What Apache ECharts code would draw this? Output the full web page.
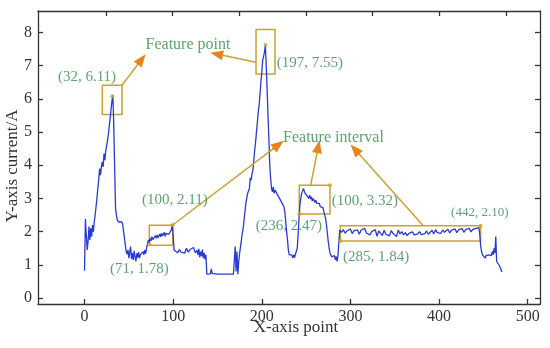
<!DOCTYPE html>
<html><head><meta charset="utf-8">
<script src="https://cdn.jsdelivr.net/npm/echarts@6/dist/echarts.min.js"></script>
<style>html,body{margin:0;padding:0;background:#fff}#c{width:550px;height:348px}</style>
</head><body><div id="c"></div>
<script>
// ---- data (x-axis point, current in A) ----
const xIndex = [
0,1,2,3,4,5,6,7,8,9,10,11,12,13,14,15,16,17,18,19,20,21,22,23,24,25,26,27,28,29,30,31,32,33,34,35,36,37,38,39,40,41,42,43,44,45,46,47,
48,49,50,51,52,53,54,55,56,57,58,59,60,61,62,63,64,65,66,67,68,69,70,71,
72,73,74,75,76,77,78,79,80,81,82,83,84,85,86,87,88,89,90,91,92,93,94,95,96,97,98,99,100,101,
103,105,107,109,111,113,115,117,119,121,123,125,127,128,129,130,131,132,133,134,135,136,137,138,
140,142,143,144,146,150,155,160,165,168,169,170,171,172,173,
174,175,176,177,178,179,180,181,182,183,184,185,186,187,188,189,190,191,192,193,194,195,196,197,198,199,200,201,202,203,204,205,206,207,208,209,210,
211,212,213,214,215,216,217,218,219,220,221,222,223,224,225,226,227,228,229,230,231,232,233,234,235,236,237,238,239,240,
241,242,243,244,245,246,247,248,249,250,251,252,253,254,255,256,257,258,259,260,261,262,263,264,265,266,267,268,269,270,
271,272,273,274,275,276,277,278,279,280,281,282,283,284,285,286,287,288,
290,292,294,296,298,300,302,304,306,308,310,312,314,316,318,320,322,324,326,328,330,332,334,336,338,340,342,344,346,348,
350,352,354,356,358,360,362,364,366,368,370,372,374,376,378,380,382,384,386,388,390,392,394,396,398,400,402,404,406,408,
410,412,414,416,418,420,422,424,426,428,430,432,434,436,438,440,442,444,445,446,
447,448,449,450,451,452,453,454,455,456,457,458,459,460,461,462,463,464,465,466,467,468,469,470,471
];
const currentA = [
0.82,2.38,1.9,1.45,1.7,2.15,1.75,2.1,1.85,2.2,2.0,2.3,2.5,2.75,3.0,3.3,3.55,3.9,3.7,3.95,4.1,3.95,4.35,4.15,4.45,4.6,4.75,4.95,5.2,5.45,5.7,5.95,6.11,5.2,3.9,2.7,2.5,2.35,2.4,2.28,2.32,2.26,2.3,2.22,2.28,2.2,1.6,1.4,
1.32,1.45,1.2,1.38,1.55,1.18,1.35,1.15,1.42,1.25,1.1,1.35,1.22,1.38,1.2,1.3,1.36,1.24,1.4,1.3,1.44,1.34,1.5,1.62,
1.75,1.66,1.8,1.72,1.85,1.76,1.82,1.74,1.88,1.8,1.9,1.82,1.86,1.93,1.84,1.95,1.87,1.9,1.98,1.86,1.95,1.9,2.0,1.92,1.96,1.88,2.05,2.2,1.9,1.45,
1.4,1.36,1.46,1.38,1.44,1.35,1.5,1.38,1.46,1.4,1.52,1.36,1.44,1.3,1.48,1.22,1.4,1.26,1.46,1.2,1.36,1.16,1.3,0.72,
0.72,0.73,0.88,0.74,0.72,0.72,0.72,0.72,0.72,0.72,0.76,1.55,0.8,1.4,0.72,
1.1,1.35,1.55,1.75,1.95,2.1,2.35,2.6,2.85,3.0,3.15,3.2,3.3,3.62,3.55,3.75,3.85,4.15,4.45,4.7,5.0,5.3,5.6,5.8,6.15,6.5,6.8,7.15,7.2,7.4,7.62,7.0,6.3,5.5,4.8,4.0,3.6,
3.3,3.2,3.35,3.15,3.25,3.2,3.3,3.1,3.15,3.0,3.05,2.95,2.85,2.9,2.75,2.6,2.3,2.0,1.75,1.45,1.3,1.35,1.25,1.3,1.2,1.3,1.22,1.32,1.28,1.5,
1.9,2.4,2.8,3.0,3.15,3.22,3.3,3.22,3.15,3.18,3.08,3.12,3.0,3.1,2.98,3.05,2.92,3.0,2.95,2.88,2.95,2.85,2.9,2.8,2.85,2.75,2.8,2.7,2.72,2.6,
2.55,2.4,2.2,1.95,1.7,1.5,1.35,1.3,1.24,1.3,1.2,1.28,1.15,1.25,1.1,1.3,1.7,2.05,
1.98,2.06,1.95,2.02,1.97,2.08,1.94,2.03,1.99,2.05,1.92,2.04,1.98,2.1,1.96,2.02,1.9,2.0,1.94,2.06,1.86,2.02,1.96,1.88,2.04,1.92,1.98,1.87,2.03,1.95,
1.98,1.85,2.05,1.93,2.0,1.9,1.97,1.88,1.95,1.92,1.99,1.9,1.96,1.93,2.0,1.91,1.97,1.94,2.02,1.92,1.98,2.04,1.93,2.06,1.97,2.02,1.95,2.05,1.98,2.0,
2.07,1.96,2.04,2.0,2.08,1.97,2.05,2.01,2.09,1.98,2.06,2.02,2.1,1.99,2.07,2.03,2.1,2.04,2.12,1.9,
1.55,1.4,1.3,1.25,1.35,1.2,1.28,1.3,1.22,1.3,1.25,1.35,1.28,1.4,1.3,1.5,1.35,1.85,1.1,1.05,1.1,0.98,1.0,0.85,0.78
];
const xTicks = [0,100,200,300,400,500];
const yTicks = [0,1,2,3,4,5,6,7,8];
const topTicks = [0,1,2,3,4,5,6];

// annotation boxes [x1, y1, x2, y2] in data units
const boxCorners = [
  [20.1,5.53,42.3,6.41],
  [193.5,6.75,214.9,8.09],
  [73.1,1.59,99.5,2.19],
  [242.3,2.53,276.9,3.40],
  [288.6,1.72,446.9,2.18]
];
// marker dots
const dotX = [31.3,204.2,73.1,99.5,242.3,276.9,288.6,446.9];
const dotY = [6.08,7.62,1.62,2.2,2.53,3.40,1.72,2.18];
// arrows: start -> tip
const arrowFrom = [[42.3,6.41],[193.5,7.1],[99.5,2.2],[255.2,3.40],[382.2,2.18]];
const arrowTo   = [[64.5,7.19],[149,7.35],[219,4.62],[263.7,4.56],[305,4.48]];
// annotation texts
const noteText  = ['(32, 6.11)','Feature point','(197, 7.55)','Feature interval','(100, 2.11)','(71, 1.78)','(236, 2.47)','(100, 3.32)','(285, 1.84)','(442, 2.10)'];
const noteX     = [2.8,116.7,217,224,102,62,268,279,291.6,446];
const noteY     = [6.66,7.62,7.08,4.82,2.95,0.87,2.17,2.93,1.23,2.56];
const noteAlign = ['center','center','left','left','center','center','right','left','left','center'];
const noteSize  = [15,16,15,16,15,15,15,15,15,13];

const FONT = 'Liberation Serif';
const GREEN = '#368a4e';
const GOLD = '#c9a232';
const ORANGE = '#e6861a';

const lineData = xIndex.map((x,i)=>[x,currentA[i]]);
const chart = echarts.init(document.getElementById('c'), null, {renderer:'canvas'});

const headFrac = 0.06;
const headData = arrowFrom.map((f,i)=>{
  const t = arrowTo[i];
  return [{coord:[t[0]-(t[0]-f[0])*headFrac, t[1]-(t[1]-f[1])*headFrac]},{coord:t}];
});

const axisLineStyle = {color:'#333', width:1.3};
chart.setOption({
  animation:false,
  backgroundColor:'#fff',
  grid:{left:38,right:10,top:11,bottom:44,containLabel:false},
  xAxis:[
    {type:'value',position:'bottom',min:-52.5,max:513.9,
     axisLine:{show:true,onZero:false,lineStyle:axisLineStyle},
     axisTick:{show:true,inside:true,length:5,customValues:xTicks,lineStyle:axisLineStyle},
     axisLabel:{customValues:xTicks,fontFamily:FONT,fontSize:16,color:'#333',margin:5},
     splitLine:{show:false}},
    {type:'value',position:'top',min:-1.02,max:6.51,
     axisLine:{show:true,onZero:false,lineStyle:axisLineStyle},
     axisTick:{show:true,inside:true,length:5,customValues:topTicks,lineStyle:axisLineStyle},
     axisLabel:{show:false},splitLine:{show:false}}
  ],
  yAxis:[
    {type:'value',position:'left',min:-0.18,max:8.645,
     axisLine:{show:true,onZero:false,lineStyle:axisLineStyle},
     axisTick:{show:true,inside:true,length:5,customValues:yTicks,lineStyle:axisLineStyle},
     axisLabel:{customValues:yTicks,fontFamily:FONT,fontSize:16,color:'#333',margin:6},
     splitLine:{show:false}},
    {type:'value',position:'right',min:-0.18,max:8.645,
     axisLine:{show:true,onZero:false,lineStyle:axisLineStyle},
     axisTick:{show:true,inside:true,length:5,customValues:yTicks,lineStyle:axisLineStyle},
     axisLabel:{show:false},splitLine:{show:false}}
  ],
  graphic:[
    {type:'text',x:296,y:328,style:{text:'X-axis point',font:'17px "Liberation Serif"',fill:'#333',textAlign:'center',textVerticalAlign:'middle'}},
    {type:'text',x:13,y:166,rotation:Math.PI/2,style:{text:'Y-axis current/A',font:'17px "Liberation Serif"',fill:'#333',textAlign:'center',textVerticalAlign:'middle'}}
  ],
  series:[
    {type:'line',data:lineData,showSymbol:false,symbol:'none',
     lineStyle:{color:'#2a3ad0',width:1.3},z:3,
     markArea:{silent:true,
       itemStyle:{color:'rgba(0,0,0,0)',borderColor:GOLD,borderWidth:1.5},
       data:boxCorners.map(b=>[{coord:[b[0],b[1]]},{coord:[b[2],b[3]]}])},
     markLine:{silent:true,symbol:['none','none'],label:{show:false},
       lineStyle:{color:GOLD,width:1.5,type:'solid'},
       data:arrowFrom.map((f,i)=>[{coord:f},{coord:arrowTo[i]}])}
    },
    {type:'line',data:[],z:4,
     markLine:{silent:true,symbol:['none','triangle'],symbolSize:[10,13],label:{show:false},
       lineStyle:{color:ORANGE,width:1.5,type:'solid'},
       data:headData}
    },
    {type:'scatter',data:dotX.map((x,i)=>[x,dotY[i]]),symbolSize:4,
     itemStyle:{color:GOLD},z:5,silent:true},
    {type:'scatter',z:6,silent:true,symbolSize:1,itemStyle:{color:'rgba(0,0,0,0)'},
     label:{show:true,position:'inside',fontFamily:FONT,color:GREEN,formatter:p=>p.name},
     data:noteText.map((t,i)=>({name:t,value:[noteX[i],noteY[i]],
       label:{align:noteAlign[i],fontSize:noteSize[i],verticalAlign:'middle'}}))}
  ]
});
</script></body></html>
